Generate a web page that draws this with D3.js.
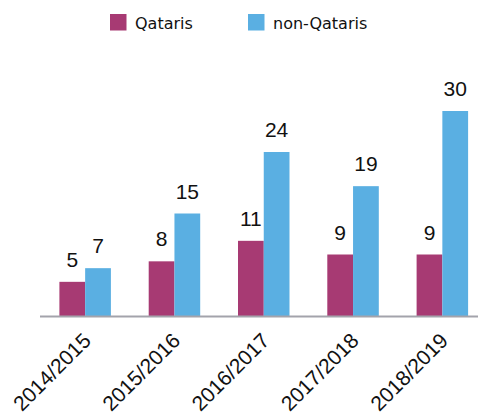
<!DOCTYPE html>
<html>
<head>
<meta charset="utf-8">
<script src="https://cdn.jsdelivr.net/npm/d3@7"></script>
<style>
  body { margin: 0; background: #fff; }
  svg { display: block; }
</style>
</head>
<body>
<script>
// data
var years = ['2014/2015', '2015/2016', '2016/2017', '2017/2018', '2018/2019'];
var seriesNames = ['Qataris', 'non-Qataris'];
var qataris = [5, 8, 11, 9, 9];
var nonQataris = [7, 15, 24, 19, 30];

var colors = ['#A73A73', '#5AAFE2'];

var width = 478, height = 415;

var svg = d3.select('body').append('svg')
  .attr('width', width)
  .attr('height', height);

// scales
var x = d3.scaleBand()
  .domain(years)
  .range([40.5, 487])
  .paddingInner(0)
  .paddingOuter(0);

var x1 = d3.scaleBand()
  .domain(seriesNames)
  .range([0, 51.5])
  .padding(0);

var y = d3.scaleLinear()
  .domain([0, 30])
  .range([316, 111]);

var rows = years.map(function(yr, i) {
  return {year: yr, values: [qataris[i], nonQataris[i]]};
});

function cells(d) {
  return d.values.map(function(v, j) { return {name: seriesNames[j], v: v, j: j}; });
}

var groups = svg.selectAll('.grp')
  .data(rows)
  .enter().append('g')
  .attr('class', 'grp')
  .attr('transform', function(d) {
    return 'translate(' + (x(d.year) + x.bandwidth() / 2 - x1.bandwidth()) + ',0)';
  });

groups.selectAll('rect')
  .data(cells)
  .enter().append('rect')
  .attr('x', function(d) { return x1(d.name); })
  .attr('y', function(d) { return y(d.v); })
  .attr('width', x1.bandwidth())
  .attr('height', function(d) { return y(0) - y(d.v); })
  .attr('fill', function(d) { return colors[d.j]; });

// value labels
groups.selectAll('text.val')
  .data(cells)
  .enter().append('text')
  .attr('class', 'val')
  .attr('x', function(d) { return x1(d.name) + x1.bandwidth() / 2; })
  .attr('y', function(d) { return y(d.v) - 15; })
  .attr('text-anchor', 'middle')
  .style('font-family', 'Liberation Sans, Arial, sans-serif')
  .style('font-size', '21px')
  .style('fill', '#111')
  .text(function(d) { return d.v; });

// axis line
svg.append('line')
  .attr('x1', 40)
  .attr('x2', width)
  .attr('y1', y(0) + 0.5)
  .attr('y2', y(0) + 0.5)
  .attr('stroke', '#A3A3AB')
  .attr('stroke-width', 2);

// x labels
svg.selectAll('text.xl')
  .data(years)
  .enter().append('text')
  .attr('class', 'xl')
  .attr('transform', function(d) {
    return 'translate(' + (x(d) + x.bandwidth() / 2 + 7) + ',342) rotate(-45)';
  })
  .attr('text-anchor', 'end')
  .style('font-family', 'Liberation Sans, Arial, sans-serif')
  .style('font-size', '21px')
  .style('fill', '#111')
  .text(function(d) { return d; });

// legend
var legendX = [110, 248];
var legend = svg.selectAll('.leg')
  .data(seriesNames)
  .enter().append('g')
  .attr('class', 'leg')
  .attr('transform', function(d, i) { return 'translate(' + legendX[i] + ',14)'; });

legend.append('rect')
  .attr('width', 16.5)
  .attr('height', 16.5)
  .attr('fill', function(d, i) { return colors[i]; });

legend.append('text')
  .attr('x', 25)
  .attr('y', 14.5)
  .style('font-family', 'DejaVu Sans, sans-serif')
  .style('font-size', '16px')
  .style('fill', '#111')
  .text(function(d) { return d; });
</script>
</body>
</html>
